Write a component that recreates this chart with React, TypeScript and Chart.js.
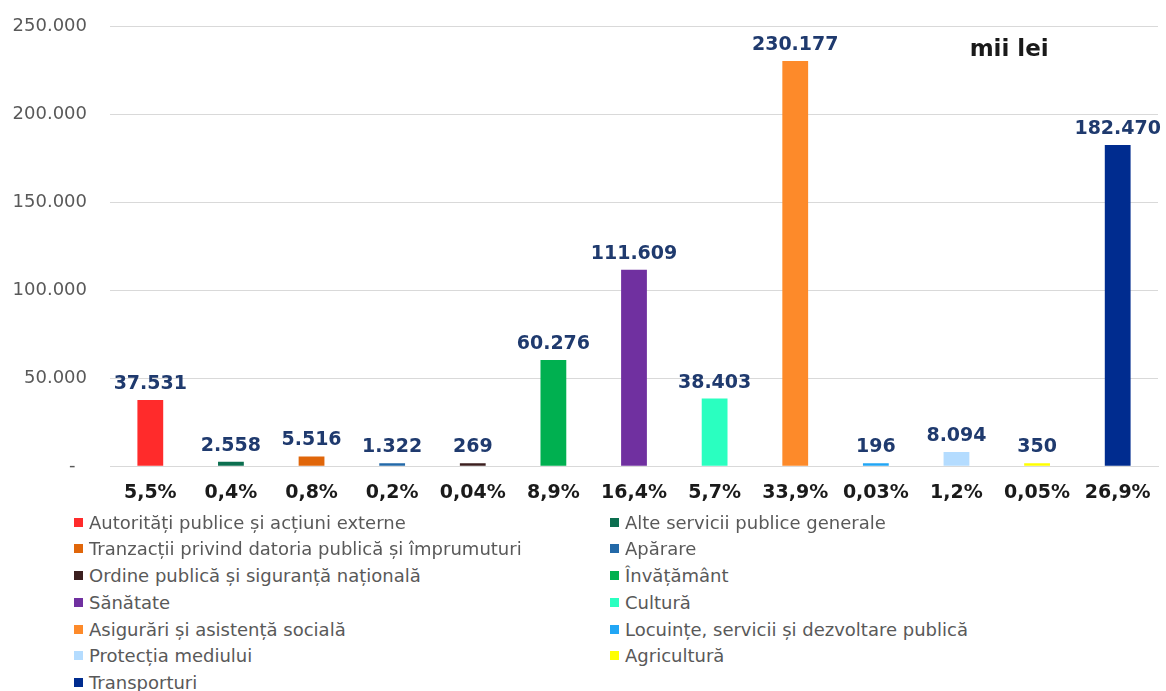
import React, { useEffect, useRef } from "react";
import { Chart, registerables } from "chart.js";

Chart.register(...registerables);

const categories = [
  "Autorități publice și acțiuni externe",
  "Alte servicii publice generale",
  "Tranzacții privind datoria publică și împrumuturi",
  "Apărare",
  "Ordine publică și siguranță națională",
  "Învățământ",
  "Sănătate",
  "Cultură",
  "Asigurări și asistență socială",
  "Locuințe, servicii și dezvoltare publică",
  "Protecția mediului",
  "Agricultură",
  "Transporturi",
];

const values = [37531, 2558, 5516, 1322, 269, 60276, 111609, 38403, 230177, 196, 8094, 350, 182470];

const shares = ["5,5%", "0,4%", "0,8%", "0,2%", "0,04%", "8,9%", "16,4%", "5,7%", "33,9%", "0,03%", "1,2%", "0,05%", "26,9%"];

const colors = [
  "#ff2b2b",
  "#0b6e4f",
  "#e0660a",
  "#2369a8",
  "#3b1f1f",
  "#00b050",
  "#7030a0",
  "#2affc0",
  "#fd8a2a",
  "#22a6f5",
  "#b4dcff",
  "#ffff00",
  "#002c8f",
];

const yMax = 250000;
const yStep = 50000;
const unitLabel = "mii lei";

function fmt(n: number): string {
  return String(Math.round(n)).replace(/\B(?=(\d{3})+(?!\d))/g, ".");
}

export default function App() {
  const ref = useRef<HTMLCanvasElement>(null);

  useEffect(() => {
    if (!ref.current) return;
    const valueLabels = {
      id: "valueLabels",
      afterDatasetsDraw(chart: any) {
        const ctx = chart.ctx;
        const meta = chart.getDatasetMeta(0);
        ctx.save();
        ctx.font = 'bold 19px "DejaVu Sans"';
        ctx.fillStyle = "#1f3a6e";
        ctx.textAlign = "center";
        ctx.textBaseline = "alphabetic";
        meta.data.forEach((el: any, i: number) => {
          ctx.fillText(fmt(values[i]), el.x, el.y - 11);
        });
        const ca = chart.chartArea;
        ctx.font = 'bold 23px "DejaVu Sans"';
        ctx.fillStyle = "#1a1a1a";
        ctx.fillText(unitLabel, ca.left + (ca.right - ca.left) * 0.858, ca.top + 30);
        ctx.restore();
      },
    };

    const chart = new Chart(ref.current, {
      type: "bar",
      data: {
        labels: shares,
        datasets: [
          {
            data: values,
            backgroundColor: colors,
            barPercentage: 0.32,
            categoryPercentage: 1,
            minBarLength: 3,
          },
        ],
      },
      options: {
        responsive: false,
        animation: false,
        layout: { padding: { top: 26, right: 8, bottom: 0, left: 0 } },
        plugins: {
          legend: { display: false },
          tooltip: { enabled: false },
        },
        scales: {
          x: {
            grid: { display: false, drawTicks: false },
            border: { display: true, color: "#d9d9d9" },
            ticks: {
              padding: 15,
              color: "#1a1a1a",
              font: { family: "DejaVu Sans", size: 19, weight: "bold" },
              maxRotation: 0,
              autoSkip: false,
            },
          },
          y: {
            min: 0,
            max: yMax,
            afterFit(scale: any) {
              scale.width = 110;
              scale.paddingTop = 0;
              scale.paddingBottom = 0;
            },
            grid: { color: "#d9d9d9", lineWidth: 1, drawTicks: false },
            border: { display: false },
            ticks: {
              stepSize: yStep,
              padding: 23,
              color: "#595959",
              font: { family: "DejaVu Sans", size: 18 },
              callback: (v: any) => (Number(v) === 0 ? "-  " : fmt(Number(v))),
            },
          },
        },
      },
      plugins: [valueLabels],
    });
    return () => chart.destroy();
  }, []);

  const rowH = 26.67;
  return (
    <div style={{ position: "relative", width: 1166, height: 691, overflow: "hidden", background: "#fff" }}>
      <style>{`body{margin:0}`}</style>
      <canvas ref={ref} width={1166} height={519} style={{ position: "absolute", left: 0, top: 0 }} />
      {categories.map((name, i) => {
        const col = i % 2;
        const row = Math.floor(i / 2);
        const left = col === 0 ? 74 : 610;
        const top = 509 + row * rowH;
        return (
          <div
            key={name}
            style={{
              position: "absolute",
              left,
              top,
              height: rowH,
              display: "flex",
              alignItems: "center",
              fontFamily: '"DejaVu Sans"',
              fontSize: 18,
              color: "#595959",
              whiteSpace: "nowrap",
            }}
          >
            <span style={{ display: "inline-block", width: 9, height: 9, background: colors[i], marginRight: 6 }} />
            <span>{name}</span>
          </div>
        );
      })}
    </div>
  );
}
